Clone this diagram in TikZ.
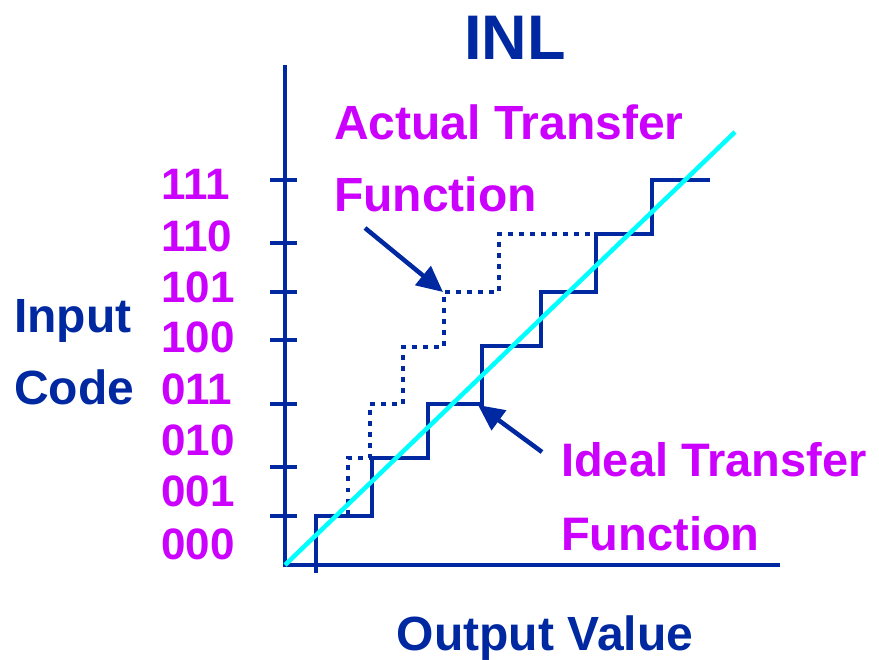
\documentclass[tikz,border=0pt]{standalone}
\usepackage{fontspec}
\setmainfont{Liberation Sans}
\usetikzlibrary{arrows.meta}
\definecolor{navy}{RGB}{0,40,160}
\definecolor{mag}{RGB}{204,0,255}
\definecolor{cyanline}{RGB}{0,255,255}
\begin{document}
\begin{tikzpicture}[x=1pt,y=-1pt,
  axisline/.style={navy,line width=4.5pt},
  ideal/.style={navy,line width=4.5pt,line join=miter},
  actual/.style={navy,line width=4.5pt,dash pattern=on 4.5pt off 6.5pt},
  diag/.style={cyanline,line width=4.5pt},
  pointer/.style={navy,line width=4.5pt,-{Triangle[length=26pt,width=24pt]}},
  codelbl/.style={mag,inner sep=0pt,anchor=base west,font=\fontsize{44}{44}\selectfont\bfseries},
  maglbl/.style={mag,inner sep=0pt,anchor=base west,font=\fontsize{48}{48}\selectfont\bfseries},
  navylbl/.style={navy,inner sep=0pt,font=\fontsize{48}{48}\selectfont\bfseries}]
\useasboundingbox (0,0) rectangle (879,660);
% axes
\coordinate (ytop) at (285,65);
\coordinate (orig) at (285,565);
\coordinate (xend) at (780,565);
\draw[axisline] (ytop) -- (orig) -- (xend);
% ticks
\foreach \y in {180,243,292,340,404,467,516}{
  \draw[axisline] (270,\y) -- (297,\y);
}
% tick labels
\node[codelbl] (c111) at (161,200) {111};
\node[codelbl] (c110) at (161,252) {110};
\node[codelbl] (c101) at (161,303) {101};
\node[codelbl] (c100) at (161,353) {100};
\node[codelbl] (c011) at (161,405) {011};
\node[codelbl] (c010) at (161,456) {010};
\node[codelbl] (c001) at (161,507) {001};
\node[codelbl] (c000) at (161,559) {000};
% ideal staircase
\draw[ideal] (316,573) -- (316,516) -- (372,516) -- (372,458) -- (428,458) -- (428,404)
  -- (482,404) -- (482,346) -- (541,346) -- (541,292) -- (596,292) -- (596,234)
  -- (652,234) -- (652,180) -- (710,180);
% actual staircase
\draw[actual] (348,514) -- (348,458) -- (370,458) -- (370,404) -- (403,404) -- (403,347)
  -- (444,347) -- (444,292) -- (499,292) -- (499,234) -- (596,234);
% diagonal
\coordinate (dend) at (735,132);
\draw[diag] (orig) -- (dend);
% titles
\node[navy,inner sep=0pt,anchor=base,font=\fontsize{63}{63}\selectfont\bfseries] (title) at (515,60) {INL};
\node[navylbl,anchor=base] (xlab) at (545,650) {Output Value};
\node[navylbl,anchor=base west] (ylab1) at (14,333) {Input};
\node[navylbl,anchor=base west] (ylab2) at (14,405) {Code};
\node[maglbl] (act1) at (334,140) {Actual Transfer};
\node[maglbl] (act2) at (334,212) {Function};
\node[maglbl,font=\fontsize{47}{47}\selectfont\bfseries] (id1) at (561,476) {Ideal Transfer};
\node[maglbl,font=\fontsize{47}{47}\selectfont\bfseries] (id2) at (561,550) {Function};
% pointers
\coordinate (a1s) at (365,228);
\coordinate (a1e) at (443,292);
\coordinate (a2s) at (542,452);
\coordinate (a2e) at (478,405);
\draw[pointer] (a1s) -- (a1e);
\draw[pointer] (a2s) -- (a2e);
\end{tikzpicture}
\end{document}
